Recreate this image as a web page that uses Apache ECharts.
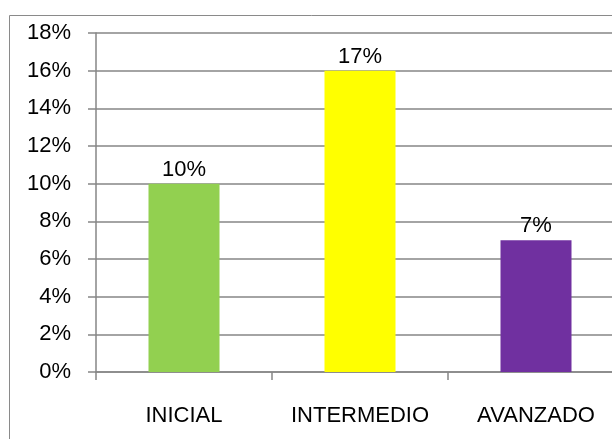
<!DOCTYPE html>
<html>
<head>
<meta charset="utf-8">
<script src="https://cdn.jsdelivr.net/npm/echarts@6/dist/echarts.min.js"></script>
<style>
html,body{margin:0;padding:0;background:#fff;}
#chart{width:612px;height:439px;}
</style>
</head>
<body>
<div id="chart"></div>
<script>
var categories = ["INICIAL", "INTERMEDIO", "AVANZADO"];
var values = [10, 16, 7];
var valueLabels = ["10%", "17%", "7%"];
var barColors = ["#92D050", "#FFFF00", "#7030A0"];
var yTicks = [0, 2, 4, 6, 8, 10, 12, 14, 16, 18];

var FONT = "Liberation Sans";
var chart = echarts.init(document.getElementById("chart"), null, {renderer: "canvas"});
chart.setOption({
  animation: false,
  backgroundColor: "#fff",
  graphic: [{
    type: "rect",
    shape: {x: 9.5, y: 15.5, width: 700, height: 500},
    style: {fill: "none", stroke: "#8a8a8a", lineWidth: 1},
    z: 0
  }],
  grid: {left: 96, top: 33, height: 339, width: 528, containLabel: false, outerBoundsMode: "none"},
  xAxis: {
    type: "category",
    data: categories,
    axisLine: {lineStyle: {color: "#868686", width: 1.5}},
    axisTick: {show: true, interval: 0, length: 8, lineStyle: {color: "#868686", width: 1.5}},
    axisLabel: {color: "#000", fontFamily: FONT, fontSize: 22, margin: 33,
      interval: 0, hideOverlap: false}
  },
  yAxis: {
    type: "value",
    min: yTicks[0],
    max: yTicks[yTicks.length - 1],
    interval: 2,
    axisLine: {show: true, lineStyle: {color: "#868686", width: 1.5}},
    axisTick: {show: true, length: 8, lineStyle: {color: "#868686", width: 1.5}},
    splitLine: {lineStyle: {color: "#868686", width: 1.5}},
    axisLabel: {color: "#000", fontFamily: FONT, fontSize: 22, margin: 25,
      formatter: function (v) { return v + "%"; }}
  },
  series: [{
    type: "bar",
    barWidth: 71,
    data: values.map(function (v, i) {
      return {value: v, itemStyle: {color: barColors[i]},
        label: {formatter: valueLabels[i]}};
    }),
    label: {show: true, position: "top", distance: 3, color: "#000",
      fontFamily: FONT, fontSize: 22}
  }]
});
</script>
</body>
</html>
